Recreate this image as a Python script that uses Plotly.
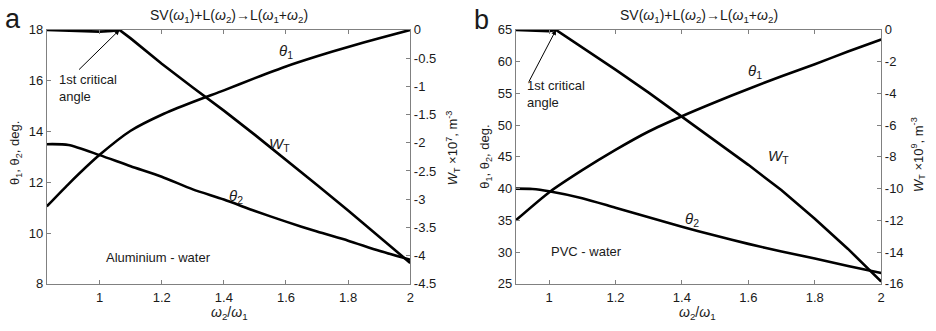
import plotly.graph_objects as go

# ---------------- data: panel a (Aluminium - water) ----------------
x_theta_a = [0.83, 0.9, 1.0, 1.1, 1.2, 1.3, 1.4, 1.5, 1.6, 1.7, 1.8, 1.9, 2.0]
theta1_a = [11.05, 11.93, 13.08, 14.03, 14.66, 15.16, 15.62, 16.1, 16.56, 16.96, 17.33, 17.67, 18.0]
theta2_a = [13.5, 13.47, 13.07, 12.63, 12.22, 11.72, 11.32, 10.87, 10.45, 10.06, 9.7, 9.3, 8.95]
x_w_a = [0.83, 0.9, 0.95, 1.0, 1.04, 1.064, 1.1, 1.2, 1.3, 1.4, 1.5, 1.6, 1.7, 1.8, 1.9, 2.0]
w_a = [0, -0.01, -0.025, -0.03, -0.02, 0, -0.15, -0.6, -1.02, -1.43, -1.86, -2.3, -2.75, -3.2, -3.67, -4.13]

# ---------------- data: panel b (PVC - water) ----------------
x_theta1_b = [0.9, 1.0, 1.1, 1.2, 1.3, 1.4, 1.5, 1.6, 1.7, 1.8, 1.9, 2.0]
theta1_b = [35.0, 39.4, 42.9, 46.1, 49.0, 51.4, 53.6, 55.7, 57.7, 59.6, 61.6, 63.5]
x_theta2_b = [0.9, 0.95, 1.0, 1.1, 1.2, 1.3, 1.4, 1.5, 1.6, 1.7, 1.8, 1.9, 2.0]
theta2_b = [40.0, 39.95, 39.6, 38.5, 37.0, 35.5, 34.0, 32.6, 31.3, 30.1, 29.0, 27.8, 26.7]
x_w_b = [0.9, 0.95, 0.98, 1.0, 1.021, 1.1, 1.2, 1.3, 1.4, 1.5, 1.6, 1.7, 1.8, 1.9, 2.0]
w_b = [0, -0.05, -0.1, -0.08, 0, -1.1, -2.5, -3.95, -5.45, -6.95, -8.5, -10.1, -11.9, -13.8, -15.85]

# ---------------- ticks ----------------
x_ticks = [1, 1.2, 1.4, 1.6, 1.8, 2]
x_ticktext = ["1", "1.2", "1.4", "1.6", "1.8", "2"]
ya_ticks = [8, 10, 12, 14, 16, 18]
wa_ticks = [0, -0.5, -1, -1.5, -2, -2.5, -3, -3.5, -4, -4.5]
wa_ticktext = ["0", "-0.5", "-1", "-1.5", "-2", "-2.5", "-3", "-3.5", "-4", "-4.5"]
yb_ticks = [25, 30, 35, 40, 45, 50, 55, 60, 65]
wb_ticks = [0, -2, -4, -6, -8, -10, -12, -14, -16]
wb_ticktext = ["0", "-2", "-4", "-6", "-8", "-10", "-12", "-14", "-16"]

FONT = "Liberation Sans, Arial, sans-serif"
W, H = 936, 331
AXC = "#808080"
TXT = "#1a1a1a"


def px(x):
    return x / W


def py(y):
    return 1 - y / H


smooth_line = dict(color="black", width=2.6, shape="spline", smoothing=0.7)
straight_line = dict(color="black", width=2.6)

fig = go.Figure()
fig.add_trace(go.Scatter(x=x_theta_a, y=theta1_a, mode="lines", line=smooth_line, xaxis="x", yaxis="y"))
fig.add_trace(go.Scatter(x=x_theta_a, y=theta2_a, mode="lines", line=smooth_line, xaxis="x", yaxis="y"))
fig.add_trace(go.Scatter(x=x_w_a, y=w_a, mode="lines", line=straight_line, xaxis="x", yaxis="y2"))
fig.add_trace(go.Scatter(x=x_theta1_b, y=theta1_b, mode="lines", line=smooth_line, xaxis="x2", yaxis="y3"))
fig.add_trace(go.Scatter(x=x_theta2_b, y=theta2_b, mode="lines", line=smooth_line, xaxis="x2", yaxis="y3"))
fig.add_trace(go.Scatter(x=x_w_b, y=w_b, mode="lines", line=straight_line, xaxis="x2", yaxis="y4"))

ydom = [py(290), py(24)]
common = dict(showgrid=False, zeroline=False, showline=True, linecolor=AXC, linewidth=1,
              ticks="inside", ticklen=4, tickcolor=AXC, tickwidth=1,
              tickfont=dict(family=FONT, size=13, color=TXT))

fig.update_layout(
    width=W, height=H,
    margin=dict(l=0, r=0, t=0, b=0),
    paper_bgcolor="white", plot_bgcolor="white",
    showlegend=False,
    xaxis=dict(domain=[px(47), px(412)], range=[0.83, 2], anchor="y", mirror="ticks",
               tickvals=x_ticks, ticktext=x_ticktext, ticklabelstandoff=2, **common),
    yaxis=dict(domain=ydom, range=[8, 18], anchor="x", tickvals=ya_ticks, **common),
    yaxis2=dict(range=[-4.5, 0], overlaying="y", side="right", anchor="x",
                tickvals=wa_ticks, ticktext=wa_ticktext, **common),
    xaxis2=dict(domain=[px(518), px(885)], range=[0.9, 2], anchor="y3", mirror="ticks",
                tickvals=x_ticks, ticktext=x_ticktext, ticklabelstandoff=2, **common),
    yaxis3=dict(domain=ydom, range=[25, 65], anchor="x2", tickvals=yb_ticks, **common),
    yaxis4=dict(range=[-16, 0], overlaying="y3", side="right", anchor="x2",
                tickvals=wb_ticks, ticktext=wb_ticktext, **common),
)

ann = []


def text(x, y, t, size=13, xref="paper", yref="paper", angle=0, xanchor="center", yanchor="middle", align="center"):
    ann.append(dict(x=x, y=y, xref=xref, yref=yref, text=t, showarrow=False, textangle=angle,
                    xanchor=xanchor, yanchor=yanchor, align=align,
                    font=dict(family=FONT, size=size, color=TXT)))


title = "SV(<i>ω</i><sub>1</sub>)+L(<i>ω</i><sub>2</sub>)→L(<i>ω</i><sub>1</sub>+<i>ω</i><sub>2</sub>)"
xtitle = "<i>ω</i><sub>2</sub>/<i>ω</i><sub>1</sub>"
ytitle = "θ<sub>1</sub>, θ<sub>2</sub>, deg."

# panel a
text(px(13), py(13), "a", size=27)
text(px(229.5), py(9), title, size=14)
text(px(230), py(321), xtitle, size=14)
text(px(15), py(153), ytitle, size=13, angle=-90)
text(px(455), py(148), "<i>W</i><sub>T</sub> ×10<sup>7</sup>, m<sup>-3</sup>", size=13, angle=-90)
text(1.6, 17.15, "<i>θ</i><sub>1</sub>", size=15, xref="x", yref="y")
text(1.44, 11.45, "<i>θ</i><sub>2</sub>", size=15, xref="x", yref="y")
text(1.58, 13.5, "<i>W</i><sub>T</sub>", size=15, xref="x", yref="y")
text(1.19, 9.05, "Aluminium - water", size=13, xref="x", yref="y")
text(px(57), py(85), "1st critical<br>angle", size=13, xanchor="left", align="left")

# panel b
text(px(484), py(14), "b", size=27)
text(px(701.5), py(9), title, size=14)
text(px(700), py(321), xtitle, size=14)
text(px(488), py(157), ytitle, size=13, angle=-90)
text(px(922), py(155), "<i>W</i><sub>T</sub> ×10<sup>9</sup>, m<sup>-3</sup>", size=13, angle=-90)
text(1.62, 58.5, "<i>θ</i><sub>1</sub>", size=15, xref="x2", yref="y3")
text(1.43, 35.2, "<i>θ</i><sub>2</sub>", size=15, xref="x2", yref="y3")
text(1.69, 45.0, "<i>W</i><sub>T</sub>", size=15, xref="x2", yref="y3")
text(1.114, 30.1, "PVC - water", size=13, xref="x2", yref="y3")
text(px(527), py(91), "1st critical<br>angle", size=13, xanchor="left", align="left")

# arrows to the first critical angle
ann.append(dict(x=1.064, y=18, xref="x", yref="y", ax=0.929, ay=16.38, axref="x", ayref="y",
                showarrow=True, arrowhead=2, arrowsize=1, arrowwidth=1, arrowcolor="black", text=""))
ann.append(dict(x=1.021, y=65, xref="x2", yref="y3", ax=0.937, ay=56.6, axref="x2", ayref="y3",
                showarrow=True, arrowhead=2, arrowsize=1, arrowwidth=1, arrowcolor="black", text=""))

fig.update_layout(annotations=ann)
fig.write_html("out.html")
